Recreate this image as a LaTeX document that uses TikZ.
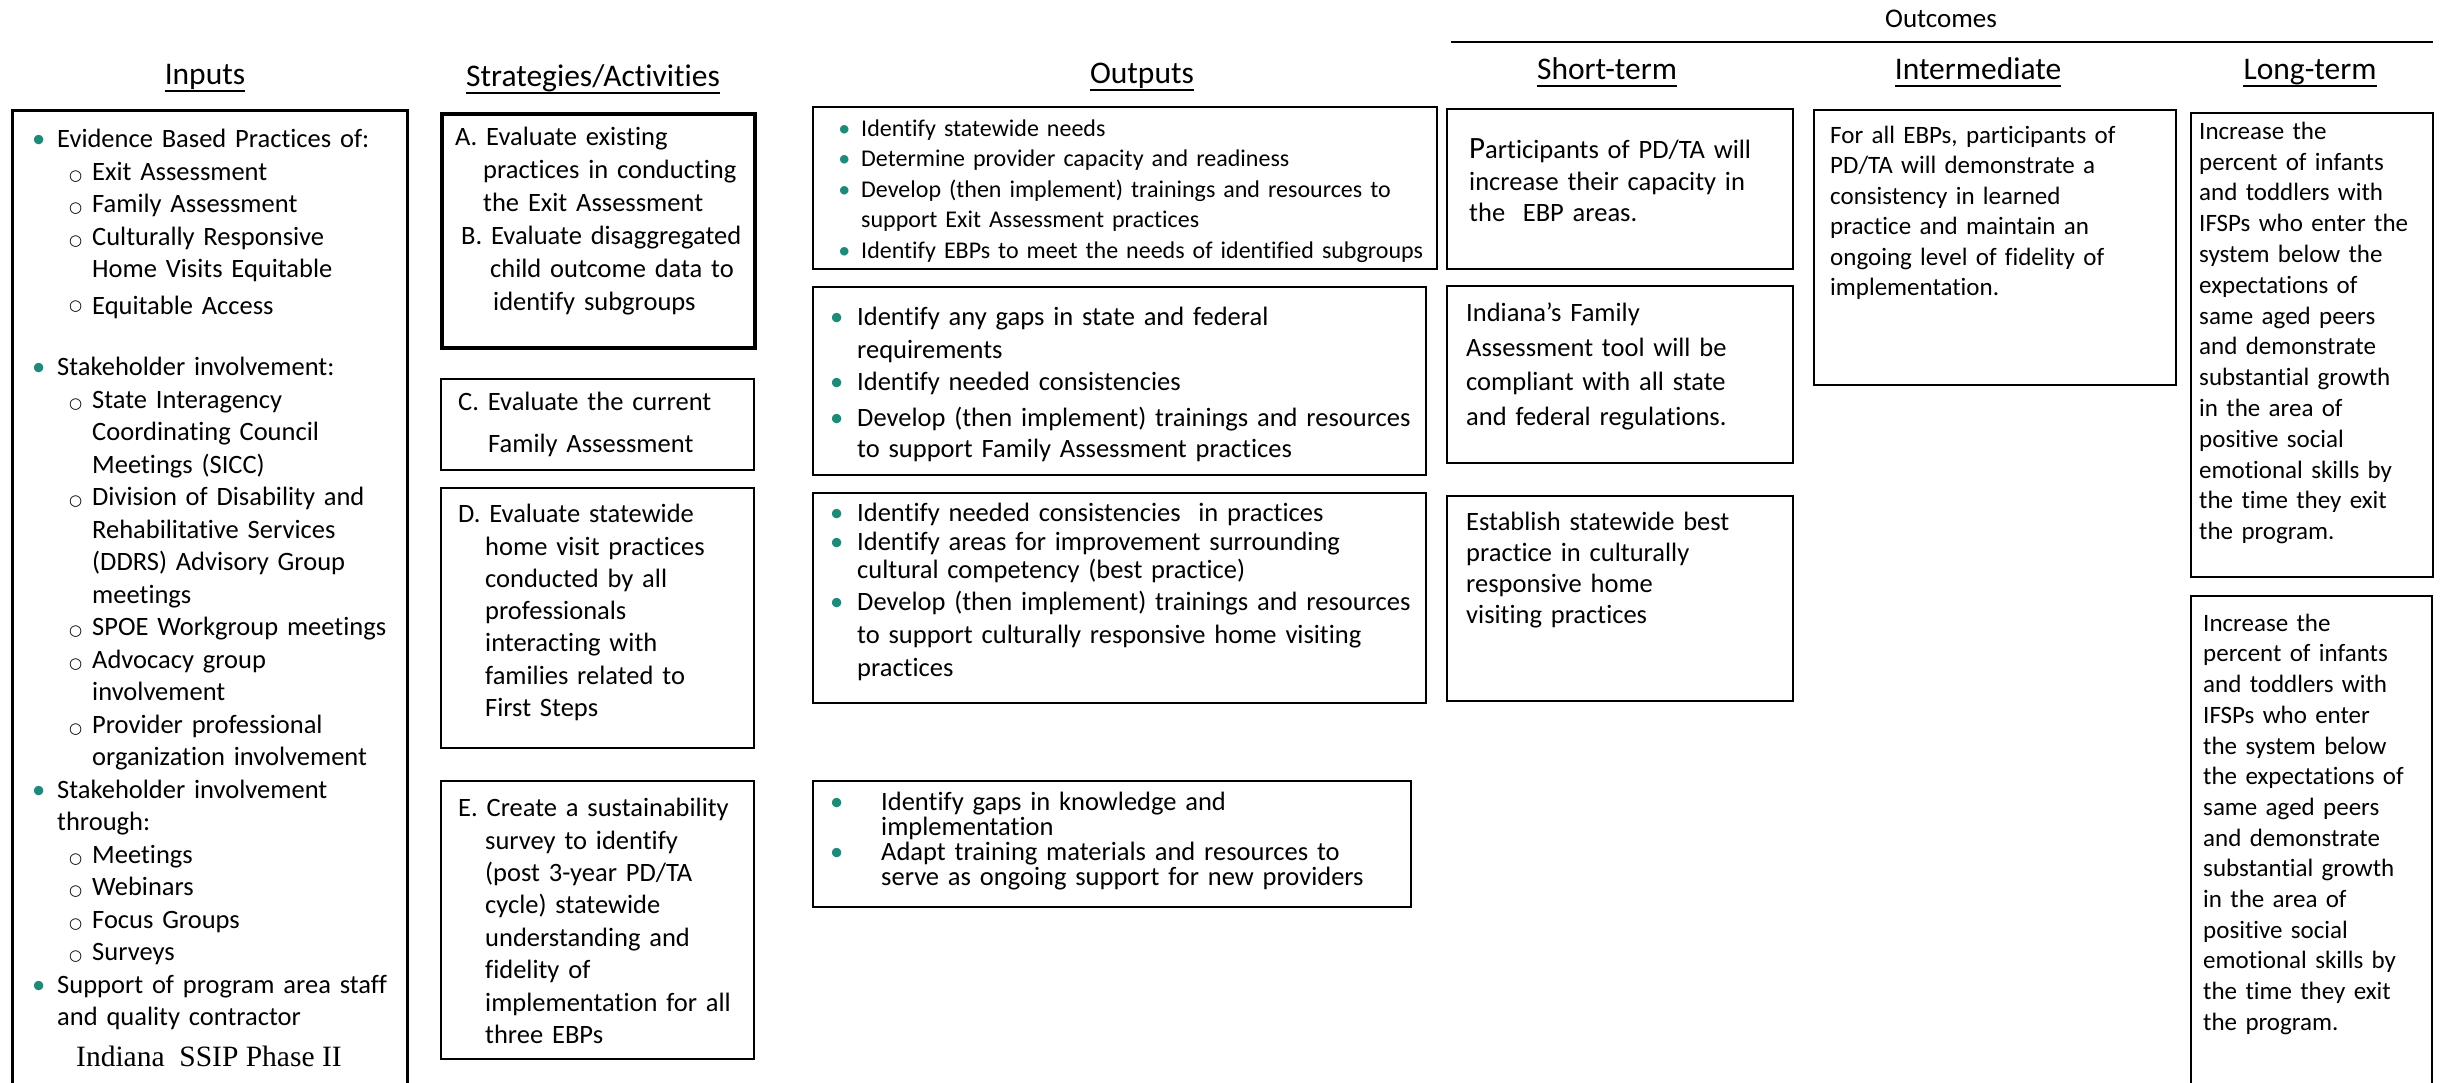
\documentclass[tikz,border=0pt]{standalone}
\usepackage{fontspec}
\setmainfont{Carlito}[Ligatures=NoCommon]
\newfontfamily\timesf{Liberation Serif}
\newfontfamily\dejaf{DejaVu Sans}
\definecolor{bulc}{HTML}{1F8A7A}
\newcommand\fsz[2]{\fontsize{#1}{#2}\selectfont\parindent=0pt}
\newcommand\fst{\rule{0pt}{1em}}
\newcommand\bulx[1]{\makebox[0pt][r]{\textcolor{bulc}{\textbullet}\hspace{#1}}}
\newcommand\circx{{\dejaf\fontsize{15}{15}\selectfont ○}}
\newcommand\subx{\hspace*{35pt}\makebox[0pt][r]{\circx\hspace{10pt}}}
\newcommand\subxe{\hspace*{35pt}\makebox[0pt][r]{\raisebox{4pt}{\circx}\hspace{10pt}}}
\newcommand\indx{\hspace*{35pt}}
\begin{document}
\begin{tikzpicture}[x=1pt,y=-1pt,
  bx/.style={draw, line width=2pt, inner sep=0pt, anchor=north west},
  tx/.style={anchor=north west, inner sep=0pt, text width=#1, align=left},
  hdr/.style={font=\fsz{31.5}{38}, inner sep=0pt, anchor=base},
  uln/.style={line width=2pt}]
\useasboundingbox (0,0) rectangle (2441,1082);

% ---------- headers ----------
\node[hdr] (hin) at (205,84) {Inputs};
\node[hdr] (hst) at (593,86) {Strategies/Activities};
\node[hdr] (hout) at (1142,83) {Outputs};
\node[hdr] (hsh) at (1607,79) {Short-term};
\node[hdr] (hint) at (1978,79) {Intermediate};
\node[hdr] (hlong) at (2310,79) {Long-term};
\foreach \h in {hin,hst,hout,hsh,hint,hlong}{
  \draw[uln] ([yshift=-7pt]\h.base west) -- ([yshift=-7pt]\h.base east);
}
\node[font=\fsz{27}{32}, inner sep=0pt, anchor=base] (outc) at (1941,27) {Outcomes};
\coordinate (olL) at (1451,42);
\coordinate (olR) at (2433,42);
\draw[line width=2pt] (olL) -- (olR);

% ---------- Inputs ----------
\node[bx, line width=2.5pt, minimum width=395pt, minimum height=1000pt] (inbox) at (11,109) {};
\node[tx=345pt, font=\fsz{26.5}{32.5}] (intx) at (57,121) {\fst\bulx{12pt}Evidence Based Practices of:\\
\subx Exit Assessment\\
\subx Family Assessment\\
\subx Culturally Responsive\\
\indx Home Visits Equitable\\[4pt]
\subxe Equitable Access\\[29pt]
\bulx{12pt}Stakeholder involvement:\\
\subx State Interagency\\
\indx Coordinating Council\\
\indx Meetings (SICC)\\
\subx Division of Disability and\\
\indx Rehabilitative Services\\
\indx (DDRS) Advisory Group\\
\indx meetings\\
\subx SPOE Workgroup meetings\\
\subx Advocacy group\\
\indx involvement\\
\subx Provider professional\\
\indx organization involvement\\
\bulx{12pt}Stakeholder involvement\\
through:\\
\subx Meetings\\
\subx Webinars\\
\subx Focus Groups\\
\subx Surveys\\
\bulx{12pt}Support of program area staff\\
and quality contractor};
\node[font=\timesf\fontsize{29.5}{34}\selectfont, inner sep=0pt, anchor=base west] (indiana) at (76,1066) {Indiana\ \ SSIP Phase II};

% ---------- Strategies ----------
\node[bx, line width=3.5pt, minimum width=313pt, minimum height=234pt] (sa) at (440,112) {};
\node[tx=300pt, font=\fsz{26.5}{33}] (satx) at (455,119) {\fst A. Evaluate existing\\
\hspace*{28pt}practices in conducting\\
\hspace*{28pt}the Exit Assessment\\
\hspace*{6pt}B. Evaluate disaggregated\\
\hspace*{35pt}child outcome data to\\
\hspace*{38pt}identify subgroups};

\node[bx, minimum width=313pt, minimum height=91pt] (sc) at (440,378) {};
\node[tx=290pt, font=\fsz{26.5}{33}] (sctx) at (458,384) {\fst C. Evaluate the current\\[9pt]
\hspace*{30pt}Family Assessment};

\node[bx, minimum width=313pt, minimum height=260pt] (sd) at (440,487) {};
\node[tx=290pt, font=\fsz{26.5}{32.3}] (sdtx) at (458,496) {\fst D. Evaluate statewide\\
\hspace*{27pt}home visit practices\\
\hspace*{27pt}conducted by all\\
\hspace*{27pt}professionals\\
\hspace*{27pt}interacting with\\
\hspace*{27pt}families related to\\
\hspace*{27pt}First Steps};

\node[bx, minimum width=313pt, minimum height=278pt] (se) at (440,780) {};
\node[tx=290pt, font=\fsz{26.5}{32.4}] (setx) at (458,790) {\fst E. Create a sustainability\\
\hspace*{27pt}survey to identify\\
\hspace*{27pt}(post 3-year PD/TA\\
\hspace*{27pt}cycle) statewide\\
\hspace*{27pt}understanding and\\
\hspace*{27pt}fidelity of\\
\hspace*{27pt}implementation for all\\
\hspace*{27pt}three EBPs};

% ---------- Outputs ----------
\node[bx, minimum width=624pt, minimum height=162pt] (o1) at (812,106) {};
\node[tx=570pt, font=\fsz{24}{30.5}] (o1tx) at (861,112) {\fst\bulx{11pt}Identify statewide needs\\
\bulx{11pt}Determine provider capacity and readiness\\
\bulx{11pt}Develop (then implement) trainings and resources to\\
support Exit Assessment practices\\
\bulx{11pt}Identify EBPs to meet the needs of identified subgroups};

\node[bx, minimum width=613pt, minimum height=188pt] (o2) at (812,286) {};
\node[tx=560pt, font=\fsz{26.5}{32.5}] (o2tx) at (857,299) {\fst\bulx{14pt}Identify any gaps in state and federal\\
requirements\\
\bulx{14pt}Identify needed consistencies\\[3pt]
\bulx{14pt}Develop (then implement) trainings and resources\\[-1pt]
to support Family Assessment practices};

\node[bx, minimum width=613pt, minimum height=210pt] (o3) at (812,492) {};
\node[tx=560pt, font=\fsz{26.5}{28.5}] (o3tx) at (857,495) {\fst\bulx{14pt}Identify needed consistencies\ \ in practices\\
\bulx{14pt}Identify areas for improvement surrounding\\
cultural competency (best practice)\\[3.5pt]
\bulx{14pt}Develop (then implement) trainings and resources\\[4.5pt]
to support culturally responsive home visiting\\[4.5pt]
practices};

\node[bx, minimum width=598pt, minimum height=126pt] (o4) at (812,780) {};
\node[tx=520pt, font=\fsz{26.5}{25}] (o4tx) at (881,784) {\fst\bulx{38pt}Identify gaps in knowledge and\\
implementation\\
\bulx{38pt}Adapt training materials and resources to\\
serve as ongoing support for new providers};

% ---------- Short-term ----------
\node[bx, minimum width=346pt, minimum height=160pt] (st1) at (1446,108) {};
\node[tx=320pt, font=\fsz{26.5}{31.5}] (st1tx) at (1469,132) {\fst{\fontsize{31}{31.5}\selectfont P}articipants of PD/TA will\\
increase their capacity in\\
the\ \ EBP areas.};

\node[bx, minimum width=346pt, minimum height=177pt] (st2) at (1446,285) {};
\node[tx=320pt, font=\fsz{26.5}{34.5}] (st2tx) at (1466,295) {\fst Indiana’s Family\\
Assessment tool will be\\
compliant with all state\\
and federal regulations.};

\node[bx, minimum width=346pt, minimum height=205pt] (st3) at (1446,495) {};
\node[tx=320pt, font=\fsz{26.5}{31}] (st3tx) at (1466,504) {\fst Establish statewide best\\
practice in culturally\\
responsive home\\
visiting practices};

% ---------- Intermediate ----------
\node[bx, minimum width=362pt, minimum height=275pt] (im) at (1813,109) {};
\node[tx=340pt, font=\fsz{25}{30.5}] (imtx) at (1830,118) {\fst For all EBPs, participants of\\
PD/TA will demonstrate a\\
consistency in learned\\
practice and maintain an\\
ongoing level of fidelity of\\
implementation.};

% ---------- Long-term ----------
\node[bx, minimum width=242pt, minimum height=464pt] (lt1) at (2190,112) {};
\node[tx=230pt, font=\fsz{25}{30.8}] (lt1tx) at (2199,114) {\fst Increase the\\
percent of infants\\
and toddlers with\\
IFSPs who enter the\\
system below the\\
expectations of\\
same aged peers\\
and demonstrate\\
substantial growth\\
in the area of\\
positive social\\
emotional skills by\\
the time they exit\\
the program.};

\node[bx, minimum width=241pt, minimum height=600pt] (lt2) at (2190,595) {};
\node[tx=225pt, font=\fsz{25}{30.7}] (lt2tx) at (2203,606) {\fst Increase the\\
percent of infants\\
and toddlers with\\
IFSPs who enter\\
the system below\\
the expectations of\\
same aged peers\\
and demonstrate\\
substantial growth\\
in the area of\\
positive social\\
emotional skills by\\
the time they exit\\
the program.};
\end{tikzpicture}
\end{document}
